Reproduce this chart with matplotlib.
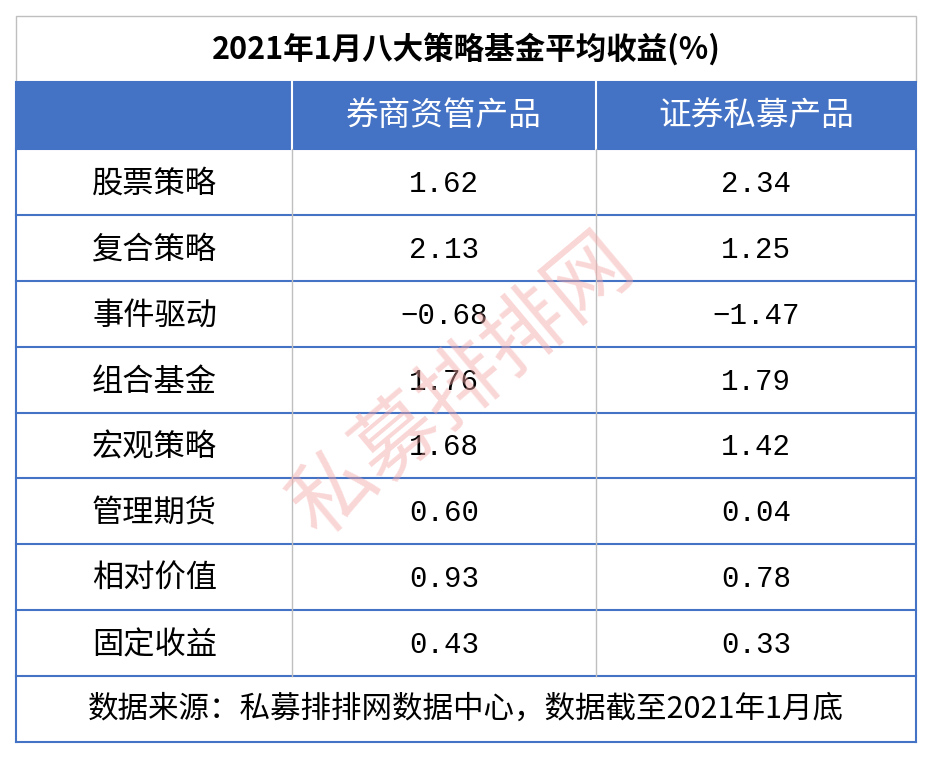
import matplotlib
matplotlib.use("Agg")
import matplotlib.pyplot as plt
from matplotlib.patches import Rectangle

plt.rcParams['font.family'] = ['Noto Sans CJK SC', 'DejaVu Sans']

title = "2021年1月八大策略基金平均收益(%)"
headers = ["券商资管产品", "证券私募产品"]
categories = ["股票策略", "复合策略", "事件驱动", "组合基金", "宏观策略", "管理期货", "相对价值", "固定收益"]
broker = ["1.62", "2.13", "-0.68", "1.76", "1.68", "0.60", "0.93", "0.43"]
private = ["2.34", "1.25", "-1.47", "1.79", "1.42", "0.04", "0.78", "0.33"]
footer = "数据来源：私募排排网数据中心，数据截至2021年1月底"

W, H = 932, 758
fig = plt.figure(figsize=(W/100, H/100), dpi=100)
ax = fig.add_axes([0, 0, 1, 1])
ax.set_xlim(0, W); ax.set_ylim(H, 0); ax.axis('off')

blue = '#4472C4'
x0, x1, x2, x3 = 16, 292, 596, 916
ytitle, yhead = 16, 82
ydata = 149
rh = (676 - 149) / 8
yfoot, yend = 676, 742

ax.add_patch(Rectangle((x0, ytitle), x3-x0, yhead-ytitle, fc='white', ec='#BFBFBF', lw=1))
ax.text((x0+x3)/2, (ytitle+yhead)/2, title, ha='center', va='center', fontsize=22, weight='bold', color='black')
ax.add_patch(Rectangle((x0, yhead), x3-x0, ydata-yhead, fc=blue, ec=blue, lw=1.5))
for xa, xb, h in [(x1, x2, headers[0]), (x2, x3, headers[1])]:
    ax.text((xa+xb)/2, (yhead+ydata)/2, h, ha='center', va='center', fontsize=23.5, color='white')
for xv in (x1, x2):
    ax.plot([xv, xv], [yhead, ydata], color='white', lw=1.5)

for i, (c, a, b) in enumerate(zip(categories, broker, private)):
    ya = ydata + i*rh
    yc = ya + rh/2 + 2
    ax.text(92, yc, c, ha='left', va='center', fontsize=22.5, color='black')
    ax.text((x1+x2)/2, yc, a.replace('-', '−'), ha='center', va='center', fontsize=21, color='black', family=['Liberation Mono', 'DejaVu Sans'])
    ax.text((x2+x3)/2, yc, b.replace('-', '−'), ha='center', va='center', fontsize=21, color='black', family=['Liberation Mono', 'DejaVu Sans'])
    ax.plot([x0, x3], [ya+rh, ya+rh], color=blue, lw=1.5)
for xv in (x1, x2):
    ax.plot([xv, xv], [ydata, yfoot], color='#BFBFBF', lw=1)
ax.plot([x0, x0], [ydata, yend], color=blue, lw=1.5)
ax.plot([x3, x3], [ydata, yend], color=blue, lw=1.5)
ax.plot([x0, x3], [yend, yend], color=blue, lw=1.5)
ax.text((x0+x3)/2, (yfoot+yend)/2, footer, ha='center', va='center', fontsize=22, color='black')

ax.text(462, 385, "私募排排网", ha='center', va='center', fontsize=60, color='#F4A6A6', alpha=0.45, rotation=40)

fig.savefig('out.png', dpi=100)
